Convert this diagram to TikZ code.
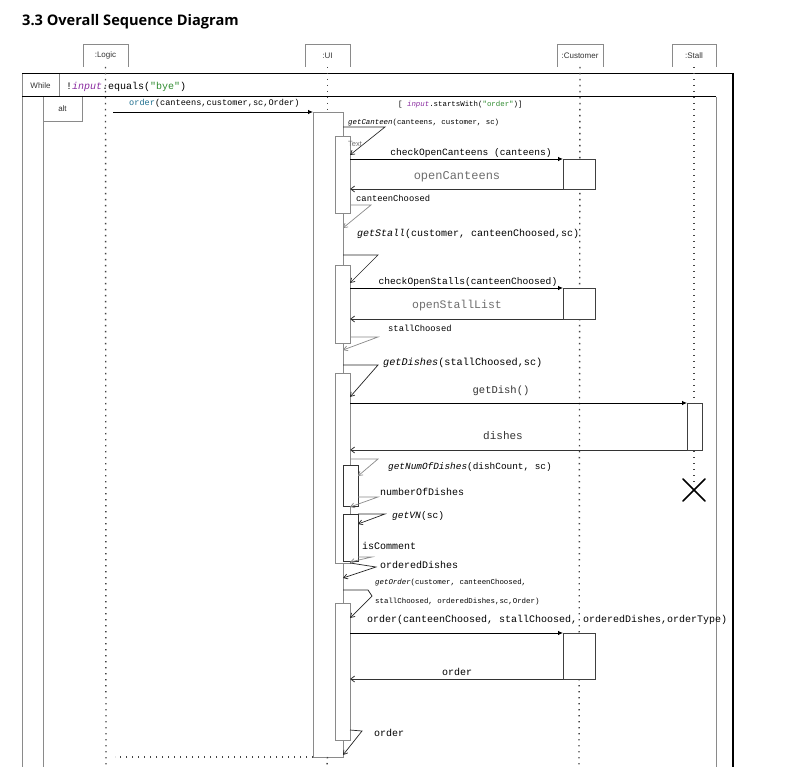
\documentclass[tikz,border=0pt]{standalone}
\usepackage{fontspec}
\setmainfont{Liberation Sans}
\setmonofont{Liberation Mono}
\newfontfamily\titlefont{Open Sans}
\usetikzlibrary{arrows.meta}
\definecolor{framegray}{HTML}{8A8A8A}
\definecolor{kwteal}{HTML}{1F6F8F}
\definecolor{kwpurple}{HTML}{8A2BA0}
\definecolor{strgreen}{HTML}{2E8B2E}
\definecolor{retgray}{HTML}{6E6E6E}
\definecolor{dotgray}{HTML}{444444}
\tikzset{
  head/.style={inner sep=0pt, outer sep=0pt, minimum width=45pt, minimum height=23pt, font=\fontsize{8}{9}\selectfont, text=black!80},
  life/.style={draw=dotgray, line width=1.4pt, dash pattern=on 1.4pt off 4.6pt},
  frm/.style={draw=framegray, line width=0.7pt},
  frmtop/.style={draw=black, line width=1pt},
  act/.style={draw=framegray, fill=white, line width=0.7pt, inner sep=0pt, outer sep=0pt, anchor=north west},
  actd/.style={draw=black!75, fill=white, line width=0.8pt, inner sep=0pt, outer sep=0pt, anchor=north west},
  call/.style={draw=black, line width=0.8pt, -{Latex[length=5pt,width=4.5pt]}},
  ret/.style={draw=black!80, line width=0.8pt, -{Straight Barb[length=4pt,width=6pt]}},
  selfm/.style={draw=black!85, line width=0.7pt, -{Straight Barb[length=4pt,width=5pt]}},
  selfg/.style={draw=framegray, line width=0.7pt, -{Straight Barb[length=4pt,width=5pt]}},
  lbl/.style={inner sep=0pt, font=\ttfamily\fontsize{10}{11}\selectfont},
  lbls/.style={inner sep=0pt, font=\ttfamily\fontsize{7.4}{8}\selectfont},
  lblm/.style={inner sep=0pt, font=\ttfamily\fontsize{8.8}{10}\selectfont},
  lblg/.style={inner sep=0pt, font=\ttfamily\fontsize{11.5}{13}\selectfont, text=retgray},
  cell/.style={inner sep=0pt, outer sep=0pt, font=\fontsize{8}{9}\selectfont, text=black!80}
}
\begin{document}
\begin{tikzpicture}[x=1pt,y=-1pt]
\useasboundingbox (0,0) rectangle (806,767);
\fill[white] (0,0) rectangle (806,767);

% title
\node[anchor=base west, inner sep=0pt, font=\titlefont\bfseries\fontsize{14.6}{17}\selectfont] (title) at (22,25.5) {3.3 Overall Sequence Diagram};

% lifeline heads
\node[head] (hLogic) at (105.5,55.5) {:Logic};
\node[head] (hUI) at (327.5,55.5) {:UI};
\node[head, minimum width=46pt] (hCust) at (580,55.5) {:Customer};
\node[head, minimum width=44pt] (hStall) at (694,55.5) {:Stall};
\foreach \h in {hLogic,hUI,hCust,hStall}
  \draw[frm] (\h.south west) |- (\h.north east) -- (\h.south east);

% coordinates
\coordinate (logicEnd) at (106,767);
\coordinate (uiEnd) at (327,767);
\coordinate (custEnd) at (579,767);
\coordinate (xStall) at (694,484);
\coordinate (m1s) at (113,112);
\coordinate (retEnd) at (115,757);

% frames
\draw[frm] (22,767) -- (22,74);
\draw[frmtop] (22,74) -- (733,74);
\draw[draw=black, line width=2.2pt] (733,73) -- (733,767);
\node[cell, minimum width=37pt, minimum height=23pt, anchor=north west] (whileLbl) at (22,74) {While};
\draw[frm] (whileLbl.north east) -- (whileLbl.south east);
\draw[frmtop] (22,97) -- (716,97);
\draw[frm] (716,97) -- (716,767);
\draw[frm] (43,97) -- (43,767);
\node[cell, minimum width=39pt, minimum height=24pt, anchor=north west] (altLbl) at (43,97) {alt};
\draw[frm] (altLbl.south west) -| (altLbl.north east);

\node[lbl, anchor=base west] (guard1) at (66,89.5) {!{\color{kwpurple}\itshape input}.equals({\color{strgreen}"bye"})};
\node[lbls, anchor=base west] (guard2) at (398,107) {[ {\color{kwpurple}\itshape input}.startsWith({\color{strgreen}"order"})]};

% lifelines
\draw[life] (hLogic.south) -- (logicEnd);
\draw[life] (hCust.south) -- (custEnd);
\draw[life] (hStall.south) -- (xStall);

% activations
\node[act, minimum width=30pt, minimum height=645pt] (A0) at (313,112) {};
\draw[life] (hUI.south) -- (A0.north -| hUI.south);
\draw[life] (A0.south -| hUI.south) -- (uiEnd);
\node[act, minimum width=15pt, minimum height=77pt] (A1) at (335,136) {};
\node[act, minimum width=15pt, minimum height=78pt] (A2) at (335,265) {};
\node[act, minimum width=15pt, minimum height=190pt] (A3) at (335,373) {};
\node[act, draw=black!80, minimum width=15pt, minimum height=41pt] (A3a) at (343,465) {};
\node[act, draw=black!80, minimum width=15pt, minimum height=47pt] (A3b) at (343,514) {};
\node[act, minimum width=15pt, minimum height=137pt] (A4) at (335,603) {};
\node[actd, minimum width=32pt, minimum height=30pt] (C1) at (563,159) {};
\node[actd, minimum width=32pt, minimum height=31pt] (C2) at (563,288) {};
\node[actd, minimum width=32pt, minimum height=46pt] (C3) at (563,633) {};
\node[actd, minimum width=15pt, minimum height=47pt] (S1) at (687,403) {};

% destroy mark
\draw[black, line width=1.6pt, line cap=round] ([shift={(-11,-11)}]xStall.center |- 0,490) -- ++(22,22);
\draw[black, line width=1.6pt, line cap=round] ([shift={(11,-11)}]xStall.center |- 0,490) -- ++(-22,22);

% entry message
\draw[call] (m1s) -- (A0.north west);
\node[lblm, anchor=base west, font=\ttfamily\fontsize{8.6}{10}\selectfont] (m1l) at (129,106) {{\color{kwteal}order}(canteens,customer,sc,Order)};

% getCanteen
\draw[selfm] (A0.east |- 0,127) -- (385,127) -- (A1.east |- 0,155);
\node[lbls, anchor=base west] (lGetCanteen) at (348,125) {{\itshape getCanteen}(canteens, customer, sc)};
\node[anchor=west, inner sep=0pt, font=\fontsize{7.5}{8}\selectfont, text=retgray] (lText) at (348,144) {Text};

\draw[call] (A1.east |- C1.north west) -- (C1.north west);
\node[lbl, anchor=base, font=\ttfamily\fontsize{9.6}{11}\selectfont] (lCheckC) at (471,156) {checkOpenCanteens (canteens)};
\draw[ret] (C1.south west) -- (A1.east |- C1.south west);
\node[lblg, anchor=base, font=\ttfamily\fontsize{12}{13}\selectfont] (lOpenC) at (457,179.5) {openCanteens};

\draw[selfg] (A1.east |- 0,205) -- (371,205) -- (A0.east |- 0,228);
\node[lblm, anchor=base west] (lCanteenCh) at (356,202) {canteenChoosed};

% getStall
\node[lbl, anchor=base west] (lGetStall) at (357,236.5) {{\itshape getStall}(customer, canteenChoosed,sc)};
\draw[selfm] (A0.east |- 0,255) -- (378,255) -- (A2.east |- 0,283);
\draw[call] (A2.east |- C2.north west) -- (C2.north west);
\node[lbl, anchor=base, font=\ttfamily\fontsize{9.6}{11}\selectfont] (lCheckS) at (468,285) {checkOpenStalls(canteenChoosed)};
\draw[ret] (C2.south west) -- (A2.east |- C2.south west);
\node[lblg, anchor=base] (lOpenS) at (457,308.5) {openStallList};
\draw[selfg] (A2.east |- 0,337) -- (378,337) -- (A0.east |- 0,350);
\node[lblm, anchor=base west] (lStallCh) at (388,331) {stallChoosed};

% getDishes
\node[lbl, anchor=base west, font=\ttfamily\fontsize{10.2}{11}\selectfont] (lGetDishes) at (383,366) {{\itshape getDishes}(stallChoosed,sc)};
\draw[selfm] (A0.east |- 0,365) -- (378,365) -- (A3.east |- 0,397);
\draw[call] (A3.east |- S1.north west) -- (S1.north west);
\node[lbl, anchor=base, font=\ttfamily\fontsize{10.5}{12}\selectfont, text=black!80] (lGetDish) at (501,393) {getDish()};
\draw[ret] (S1.south west) -- (A3.east |- S1.south west);
\node[lbl, anchor=base, font=\ttfamily\fontsize{11}{12}\selectfont, text=black!80] (lDishes) at (503,439) {dishes};

% nested
\draw[selfg] (A3.east |- 0,459) -- (378,459) -- (A3a.east |- 0,476);
\node[lbl, anchor=base west, font=\ttfamily\fontsize{9.4}{11}\selectfont] (lGetNum) at (388,469) {{\itshape getNumOfDishes}(dishCount, sc)};
\draw[selfg] (A3a.east |- 0,497) -- (378,497) -- (A3.east |- 0,507);
\node[lbl, anchor=base west] (lNumDishes) at (380,495.5) {numberOfDishes};
\draw[selfm] (A3b.north east) -- (385,514) -- (A3b.east |- 0,524);
\node[lbl, anchor=base west, font=\ttfamily\fontsize{9.6}{11}\selectfont] (lGetVN) at (392,518) {{\itshape getVN}(sc)};
\node[lbl, anchor=base west] (lIsComment) at (362,549) {isComment};
\draw[selfg] (A3b.east |- 0,557) -- (372,557) -- (A3.east |- 0,562);
\draw[selfm] (A3.south east) -- (376,567) -- (A0.east |- 0,578);
\node[lbl, anchor=base west] (lOrderedD) at (380,568.5) {orderedDishes};

% getOrder
\draw[selfm] (A0.east |- 0,590) -- (368,590) -- (372,596) -- (A4.east |- 0,618);
\node[lbls, anchor=base west] (lGetOrder1) at (375,584.5) {{\itshape getOrder}(customer, canteenChoosed,};
\node[lbls, anchor=base west] (lGetOrder2) at (375,603.5) {stallChoosed, orderedDishes,sc,Order)};
\node[lbl, anchor=base west] (lOrderCall) at (367,622.5) {order(canteenChoosed, stallChoosed, orderedDishes,orderType)};
\draw[call] (A4.east |- C3.north west) -- (C3.north west);
\draw[ret] (C3.south west) -- (A4.east |- C3.south west);
\node[lbl, anchor=base] (lOrderRet) at (457,675.5) {order};
\draw[selfm] (A4.east |- 0,730) -- (362,731) -- (A0.east |- 0,755);
\node[lbl, anchor=base west] (lOrderSelf) at (374,736.5) {order};

% return to Logic
\draw[life, line width=1.2pt] (A0.south west) -- (retEnd);
\end{tikzpicture}
\end{document}
